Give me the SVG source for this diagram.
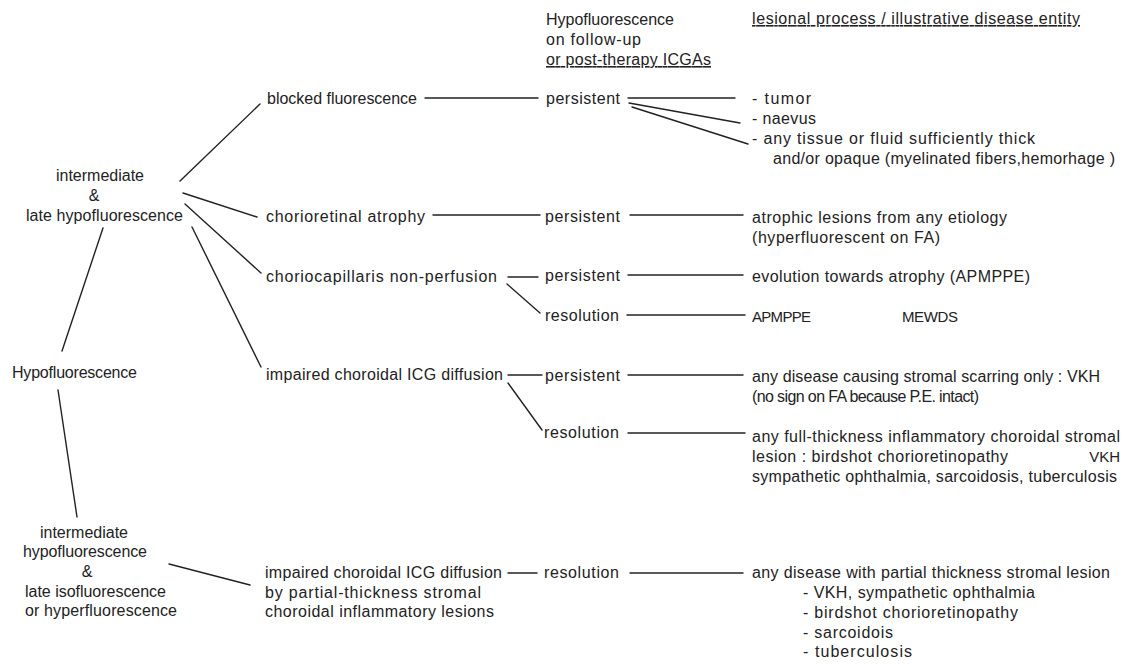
<svg xmlns="http://www.w3.org/2000/svg" width="1138" height="664" viewBox="0 0 1138 664">
<style>
text{font-family:"Liberation Sans",Arial,sans-serif;font-size:16px;fill:#222;}
.m{text-anchor:middle;}
.u{text-decoration:underline;}
.caps{font-size:15px;}
#connectors line{stroke:#222;stroke-width:1.4;stroke-linecap:round;}
</style>
<rect width="1138" height="664" fill="#fff"/>

<g id="header">
<text x="546" y="25" textLength="128" lengthAdjust="spacing">Hypofluorescence</text>
<text x="546" y="45" textLength="95" lengthAdjust="spacing">on follow-up</text>
<text x="546" y="65" textLength="165" lengthAdjust="spacing" class="u">or post-therapy ICGAs</text>
<text x="752" y="24" textLength="328" lengthAdjust="spacing" class="u">lesional process / illustrative disease entity</text>
</g>

<g id="n-late-hypo">
<text x="100" y="181" class="m">intermediate</text>
<text x="94" y="201" class="m">&amp;</text>
<text x="26" y="221" textLength="157" lengthAdjust="spacing">late hypofluorescence</text>
</g>
<g id="n-hypo">
<text x="12" y="378" textLength="125" lengthAdjust="spacing">Hypofluorescence</text>
</g>
<g id="n-inter-iso">
<text x="84" y="538" class="m">intermediate</text>
<text x="23" y="557" textLength="124" lengthAdjust="spacing">hypofluorescence</text>
<text x="87" y="577" class="m">&amp;</text>
<text x="25" y="597" textLength="141" lengthAdjust="spacing">late isofluorescence</text>
<text x="25" y="616" textLength="152" lengthAdjust="spacing">or hyperfluorescence</text>
</g>

<g id="n-blocked"><text x="267" y="104" textLength="150" lengthAdjust="spacing">blocked fluorescence</text></g>
<g id="n-atrophy"><text x="266" y="222" textLength="159" lengthAdjust="spacing">chorioretinal  atrophy</text></g>
<g id="n-cc"><text x="266" y="282" textLength="231" lengthAdjust="spacing">choriocapillaris  non-perfusion</text></g>
<g id="n-icg1"><text x="266" y="380" textLength="237" lengthAdjust="spacing">impaired choroidal ICG diffusion</text></g>
<g id="n-icg2">
<text x="265" y="578" textLength="237" lengthAdjust="spacing">impaired choroidal ICG diffusion</text>
<text x="265" y="598" textLength="216" lengthAdjust="spacing">by  partial-thickness  stromal</text>
<text x="265" y="617" textLength="229" lengthAdjust="spacing">choroidal inflammatory lesions</text>
</g>

<g id="n-p1"><text x="546" y="104" textLength="74" lengthAdjust="spacing">persistent</text></g>
<g id="n-p2"><text x="545" y="222" textLength="75" lengthAdjust="spacing">persistent</text></g>
<g id="n-p3"><text x="545" y="281" textLength="75" lengthAdjust="spacing">persistent</text></g>
<g id="n-r3"><text x="545" y="321" textLength="74" lengthAdjust="spacing">resolution</text></g>
<g id="n-p4"><text x="545" y="381" textLength="75" lengthAdjust="spacing">persistent</text></g>
<g id="n-r4"><text x="544" y="438" textLength="75" lengthAdjust="spacing">resolution</text></g>
<g id="n-r5"><text x="544" y="578" textLength="75" lengthAdjust="spacing">resolution</text></g>

<g id="n-tumor"><text x="752" y="104" textLength="59" lengthAdjust="spacing">-  tumor</text></g>
<g id="n-naevus"><text x="752" y="124" textLength="64" lengthAdjust="spacing">- naevus</text></g>
<g id="n-tissue">
<text x="752" y="144" textLength="283" lengthAdjust="spacing">- any tissue or fluid sufficiently thick</text>
<text x="773" y="164" textLength="342" lengthAdjust="spacing">and/or opaque (myelinated fibers,hemorhage )</text>
</g>
<g id="n-atrophic">
<text x="752" y="223" textLength="255" lengthAdjust="spacing">atrophic lesions from any etiology</text>
<text x="752" y="243" textLength="188" lengthAdjust="spacing">(hyperfluorescent on FA)</text>
</g>
<g id="n-evolution"><text x="752" y="282" textLength="278" lengthAdjust="spacing">evolution towards atrophy (APMPPE)</text></g>
<g id="n-apmppe">
<text x="752" y="322" class="caps" textLength="59" lengthAdjust="spacing">APMPPE</text>
<text x="902" y="322" class="caps" textLength="56" lengthAdjust="spacing">MEWDS</text>
</g>
<g id="n-scarring">
<text x="752" y="382" textLength="348" lengthAdjust="spacing">any disease causing stromal scarring only : VKH</text>
<text x="752" y="402" font-size="15" textLength="227" lengthAdjust="spacing">(no sign on FA because P.E. intact)</text>
</g>
<g id="n-full">
<text x="752" y="442" textLength="368" lengthAdjust="spacing">any full-thickness inflammatory choroidal stromal</text>
<text x="752" y="462" textLength="256" lengthAdjust="spacing">lesion : birdshot chorioretinopathy</text>
<text x="1120" y="462" class="caps" text-anchor="end">VKH</text>
<text x="752" y="482" textLength="365" lengthAdjust="spacing">sympathetic ophthalmia, sarcoidosis, tuberculosis</text>
</g>
<g id="n-partial">
<text x="752" y="578" textLength="358" lengthAdjust="spacing">any disease with partial thickness stromal lesion</text>
<text x="803" y="598" textLength="232" lengthAdjust="spacing">- VKH, sympathetic ophthalmia</text>
<text x="803" y="618" textLength="215" lengthAdjust="spacing">- birdshot chorioretinopathy</text>
<text x="803" y="638" textLength="90" lengthAdjust="spacing">- sarcoidois</text>
<text x="803" y="657" textLength="109" lengthAdjust="spacing">-  tuberculosis</text>
</g>

<g id="connectors">
<line x1="180" y1="181" x2="260" y2="104"/>
<line x1="183" y1="193" x2="257" y2="217"/>
<line x1="185" y1="204" x2="261" y2="273"/>
<line x1="192" y1="227" x2="261" y2="367"/>
<line x1="103" y1="228" x2="62" y2="351"/>
<line x1="58" y1="390" x2="77" y2="517"/>
<line x1="169" y1="564" x2="250" y2="585"/>
<line x1="425" y1="98" x2="538" y2="98"/>
<line x1="433" y1="215" x2="540" y2="215"/>
<line x1="508" y1="277" x2="538" y2="277"/>
<line x1="507" y1="284" x2="540" y2="313"/>
<line x1="508" y1="375" x2="542" y2="375"/>
<line x1="508" y1="383" x2="542" y2="430"/>
<line x1="508" y1="573" x2="537" y2="573"/>
<line x1="628" y1="98" x2="735" y2="98"/>
<line x1="629" y1="103" x2="740" y2="123"/>
<line x1="632" y1="107" x2="748" y2="144"/>
<line x1="630" y1="215" x2="743" y2="215"/>
<line x1="628" y1="275" x2="743" y2="275"/>
<line x1="627" y1="315" x2="745" y2="315"/>
<line x1="628" y1="375" x2="743" y2="375"/>
<line x1="628" y1="433" x2="745" y2="433"/>
<line x1="630" y1="573" x2="743" y2="573"/>
</g>
</svg>
